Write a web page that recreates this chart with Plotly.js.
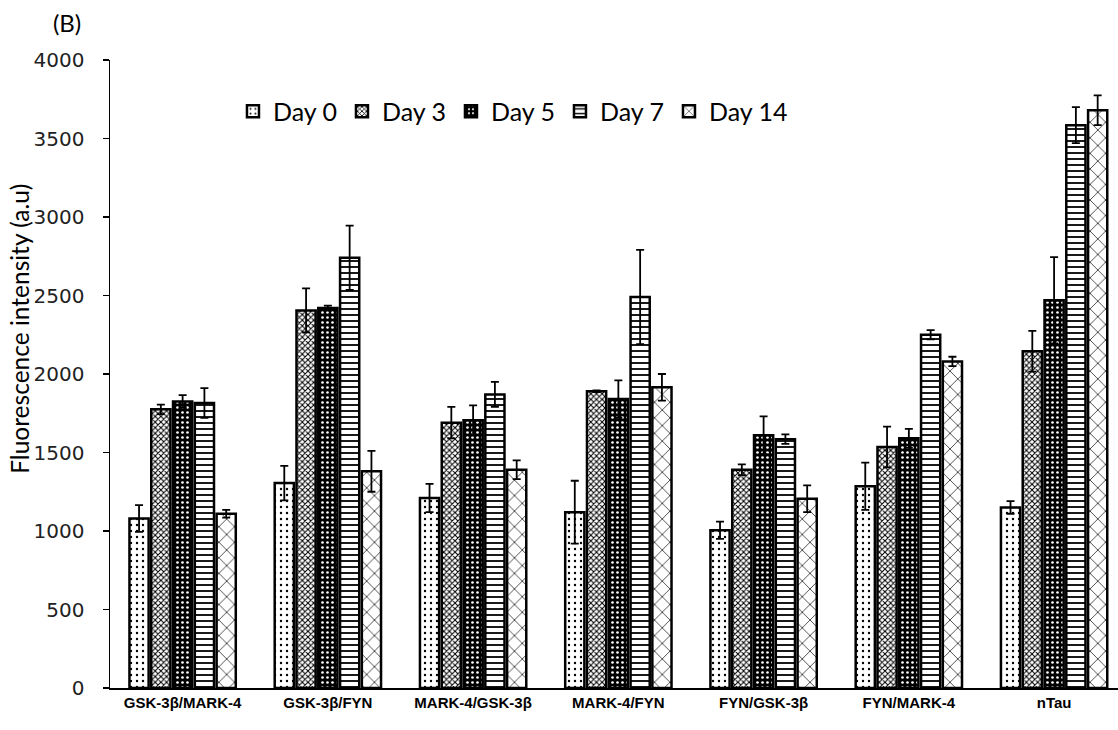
<!DOCTYPE html>
<html>
<head>
<meta charset="utf-8">
<script src="https://cdn.plot.ly/plotly-3.0.1.min.js"></script>
<style>html,body{margin:0;padding:0;background:#fff;}#chart{width:1118px;height:730px;}</style>
</head>
<body>
<div id="chart"></div>
<script>
// Fluorescence intensity per kinase combination over the time course
const categories = ["GSK-3β/MARK-4", "GSK-3β/FYN", "MARK-4/GSK-3β", "MARK-4/FYN", "FYN/GSK-3β", "FYN/MARK-4", "nTau"];
const seriesNames = ["Day 0", "Day 3", "Day 5", "Day 7", "Day 14"];

const day0  = [1080, 1305, 1210, 1120, 1005, 1285, 1150];
const day3  = [1775, 2405, 1690, 1890, 1390, 1535, 2145];
const day5  = [1825, 2420, 1705, 1840, 1610, 1590, 2470];
const day7  = [1815, 2740, 1870, 2490, 1585, 2250, 3585];
const day14 = [1110, 1380, 1390, 1915, 1205, 2080, 3680];

const err0  = [85, 110, 90, 200, 55, 150, 40];
const err3  = [30, 140, 100, 5, 35, 130, 130];
const err5  = [40, 15, 95, 120, 120, 60, 275];
const err7  = [95, 205, 80, 300, 30, 30, 115];
const err14 = [25, 130, 60, 85, 85, 30, 95];

const values = [day0, day3, day5, day7, day14];
const errors = [err0, err3, err5, err7, err14];

// Monochrome hatch fills, one per day
const patterns = [
  {shape: ".", fgcolor: "#000", bgcolor: "#fff", size: 6, solidity: 0.12},
  {shape: "x", fgcolor: "#000", bgcolor: "#fff", size: 4, solidity: 0.45},
  {shape: ".", fgcolor: "#fff", bgcolor: "#000", size: 5, solidity: 0.22},
  {shape: "-", fgcolor: "#000", bgcolor: "#fff", size: 6, solidity: 0.3},
  {shape: "x", fgcolor: "#000", bgcolor: "#fff", size: 11, solidity: 0.12}
];

const traces = seriesNames.map((name, i) => ({
  type: "bar",
  name: name,
  x: categories,
  y: values[i],
  marker: {
    color: patterns[i].bgcolor,
    line: {color: "#000", width: 2.5},
    pattern: {
      shape: patterns[i].shape,
      fgcolor: patterns[i].fgcolor,
      bgcolor: patterns[i].bgcolor,
      size: patterns[i].size,
      solidity: patterns[i].solidity,
      fillmode: "replace"
    }
  },
  error_y: {type: "data", array: errors[i], visible: true, color: "#000", thickness: 1.8, width: 4}
}));

const textFont = "Lato, 'Open Sans', sans-serif";

const layout = {
  width: 1118,
  height: 730,
  paper_bgcolor: "#fff",
  plot_bgcolor: "#fff",
  margin: {l: 110, r: 0, t: 60, b: 42},
  barmode: "group",
  bargap: 0.25,
  bargroupgap: 0.12,
  showlegend: true,
  legend: {
    orientation: "h",
    x: 0.122, y: 0.918, xanchor: "left", yanchor: "middle",
    font: {family: textFont, size: 25, color: "#000"},
    itemwidth: 30,
    tracegroupgap: 0,
    bgcolor: "rgba(0,0,0,0)"
  },
  title: {
    text: "(B)",
    x: 0.06, xanchor: "center", xref: "container",
    y: 0.968, yanchor: "middle", yref: "container",
    font: {family: textFont, size: 24, color: "#000"}
  },
  annotations: [{
    text: "Fluorescence intensity (a.u)",
    xref: "paper", yref: "paper",
    x: -0.0893, y: 0.572,
    xanchor: "center", yanchor: "middle",
    textangle: -90,
    showarrow: false,
    font: {family: textFont, size: 24.5, color: "#000"}
  }],
  xaxis: {
    type: "category",
    range: [-0.5, 6.44],
    showgrid: false,
    showline: true,
    linecolor: "#000",
    linewidth: 1.5,
    ticks: "",
    tickfont: {family: "'Liberation Sans Narrow', 'Liberation Sans', sans-serif", size: 15, color: "#000", weight: "bold"},
    zeroline: false
  },
  yaxis: {
    range: [0, 4000],
    dtick: 500,
    showgrid: false,
    showline: true,
    linecolor: "#000",
    linewidth: 1.5,
    ticks: "outside",
    ticklen: 6,
    tickcolor: "#000",
    tickwidth: 1.5,
    ticklabelstandoff: 14,
    tickfont: {family: "'DejaVu Sans', sans-serif", size: 20, color: "#222"},
    zeroline: false
  }
};

Plotly.newPlot("chart", traces, layout, {staticPlot: true, displayModeBar: false});
</script>
</body>
</html>
